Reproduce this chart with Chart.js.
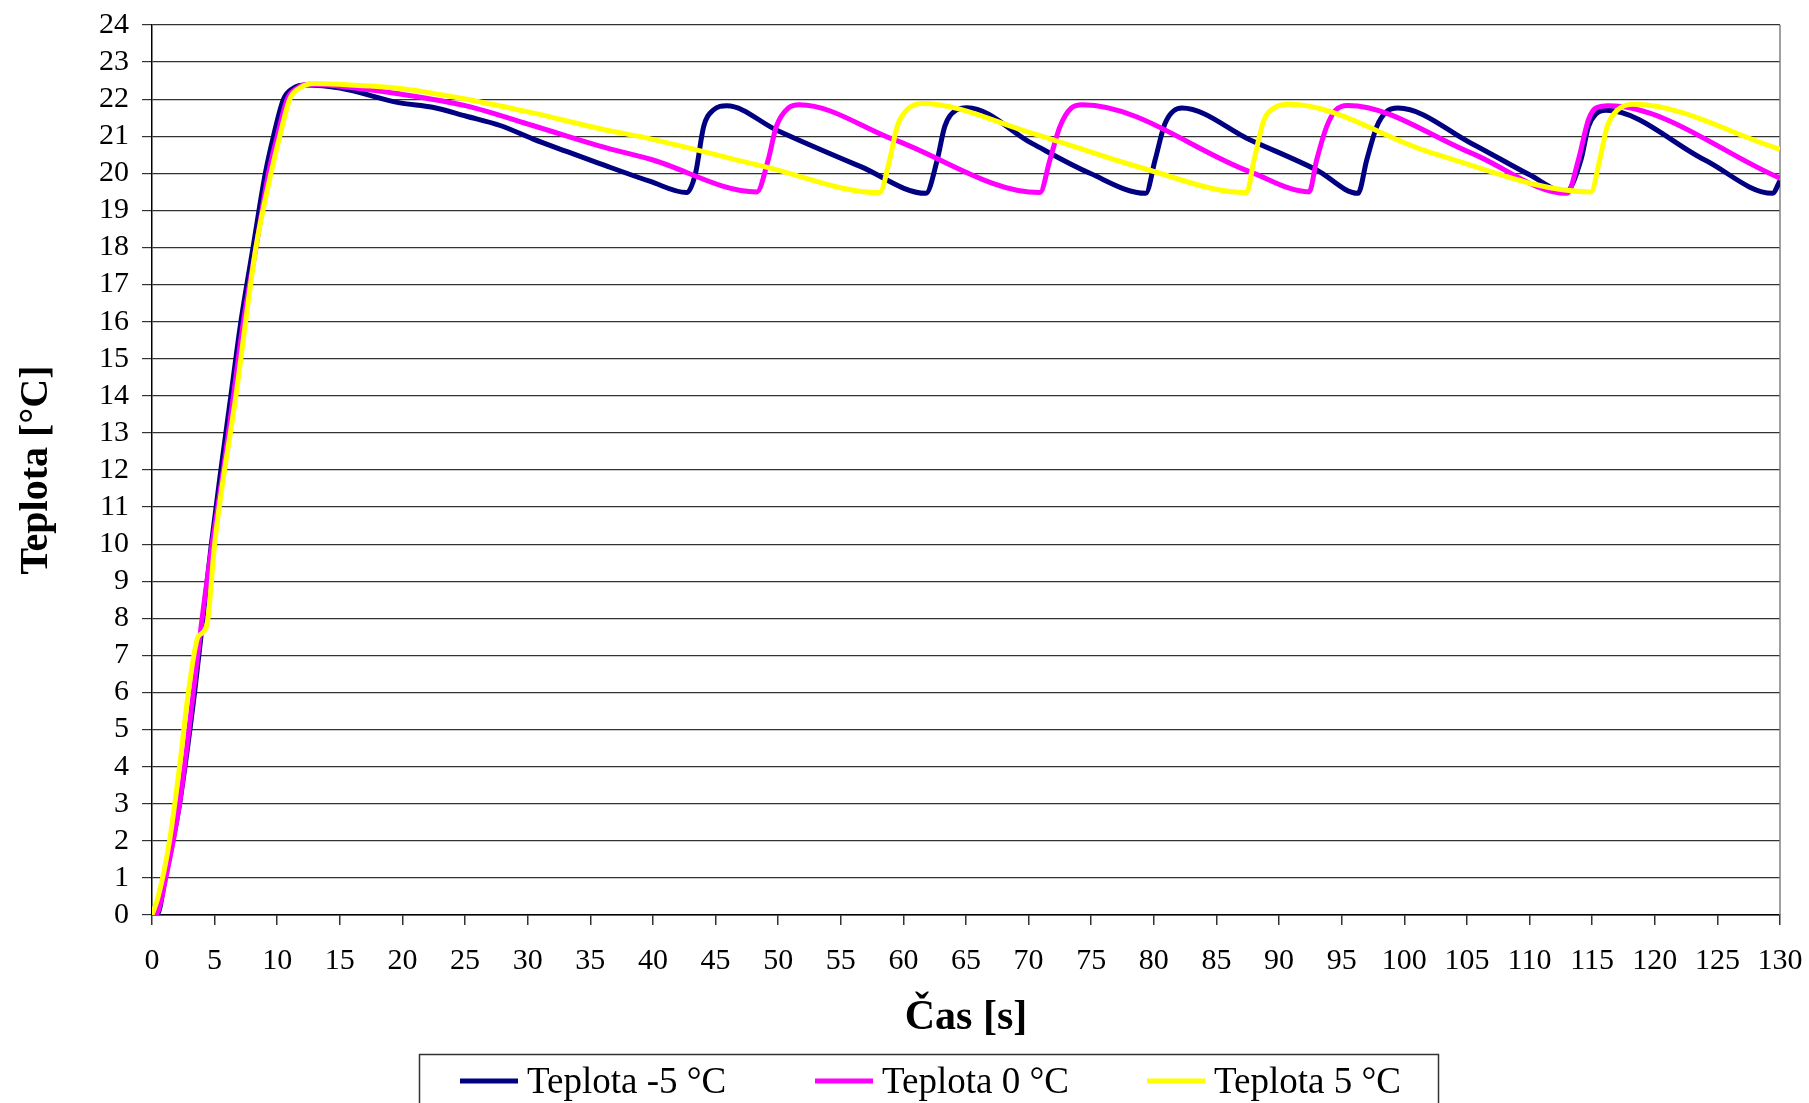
<!DOCTYPE html>
<html>
<head>
<meta charset="utf-8">
<title>Teplota</title>
<script src="https://cdn.jsdelivr.net/npm/chart.js@4.4.1/dist/chart.umd.min.js"></script>
<style>
  html, body { margin: 0; padding: 0; background: #fff; }
  #wrap { width: 1809px; height: 1103px; }
</style>
</head>
<body>
<div id="wrap"><canvas id="line-chart" width="1809" height="1103"></canvas></div>
<script>
// series names
let seriesLabels = ["Teplota -5 °C", "Teplota 0 °C", "Teplota 5 °C"];
let seriesColors = ["#000080", "#FF00FF", "#FFFF00"];

// Teplota -5 °C
let timeM5 = [0, 0.4, 1.06, 2.2, 3.4, 4.07, 4.74, 5.5, 6.3, 7.1, 8.07, 9.05, 9.7, 10.5, 11.3, 12.3, 15, 19.8, 22.4, 25.1, 27.8, 30.4, 33.1, 35.7, 39.8, 42.7, 43.4, 44.05, 44.8, 45.9, 49.85, 56.6, 61.8, 62.7, 63.3, 64.2, 65.1, 70.3, 74.9, 79.35, 80.1, 80.9, 82.25, 87.7, 93.0, 96.3, 97.0, 97.8, 98.6, 99.5, 105.4, 110.0, 112.9, 114.1, 114.7, 115.3, 116.1, 124.0, 129.4, 130];
let tempM5 = [0, 0, 1, 3, 6, 8, 10, 12, 14, 16, 18, 20, 21, 22, 22.3, 22.38, 22.3, 21.9, 21.78, 21.54, 21.29, 20.93, 20.59, 20.27, 19.78, 19.48, 20.0, 21.26, 21.7, 21.82, 21.17, 20.18, 19.46, 20.36, 21.26, 21.7, 21.77, 20.8, 20.0, 19.46, 20.36, 21.35, 21.76, 20.9, 20.09, 19.46, 20.36, 21.26, 21.67, 21.76, 20.8, 19.96, 19.5, 20.36, 21.26, 21.6, 21.7, 20.36, 19.46, 19.8];

// Teplota 0 °C
let time0 = [0, 0.4, 1.1, 2.2, 3.3, 4.0, 4.8, 5.7, 6.5, 7.3, 8.3, 9.3, 10.0, 10.8, 11.6, 12.6, 15, 19.8, 25.1, 30.4, 35.7, 39.8, 48.3, 49.2, 49.85, 50.8, 51.7, 59.3, 70.9, 71.7, 72.5, 73.4, 74.3, 87.7, 92.4, 93.0, 93.8, 94.5, 95.5, 105.4, 113.0, 113.9, 114.7, 115.3, 116.3, 130];
let temp0 = [0, 0.05, 1, 3, 6, 8, 10, 12, 14, 16, 18, 20, 21, 22, 22.3, 22.4, 22.35, 22.14, 21.82, 21.29, 20.74, 20.38, 19.5, 20.36, 21.26, 21.76, 21.85, 20.9, 19.48, 20.36, 21.26, 21.76, 21.85, 20.04, 19.5, 20.36, 21.26, 21.7, 21.83, 20.54, 19.46, 20.36, 21.44, 21.76, 21.82, 19.87];

// Teplota 5 °C
let time5 = [0, 0.5, 1.4, 2.2, 2.9, 3.67, 4.0, 4.47, 5.0, 6.7, 8.3, 9.5, 10.2, 11.0, 11.8, 13, 15, 19.8, 25.1, 30.4, 35.7, 39.8, 48.9, 58.1, 58.9, 59.5, 60.25, 61.5, 70.3, 79.0, 87.4, 88.0, 88.8, 89.6, 90.8, 102.3, 114.9, 115.6, 116.2, 117.0, 118.3, 130];
let temp5 = [0, 0.5, 2, 4, 6, 7.5, 7.6, 8.0, 10, 14, 18, 20, 21, 22, 22.3, 22.42, 22.4, 22.29, 22.0, 21.63, 21.21, 20.93, 20.18, 19.48, 20.36, 21.26, 21.7, 21.88, 21.08, 20.15, 19.48, 20.36, 21.44, 21.76, 21.86, 20.54, 19.5, 20.36, 21.26, 21.7, 21.86, 20.65];

// axes
let xMin = 0, xMax = 130, xStep = 5;
let yMin = 0, yMax = 24, yStep = 1;
let xTitle = "Čas [s]";
let yTitle = "Teplota [°C]";

function pairs(xs, ys) {
  return xs.map((x, i) => ({ x: x, y: ys[i] }));
}

let serif = "'Liberation Serif', 'Times New Roman', serif";

let datapoints = {
  datasets: [
    { label: seriesLabels[0], data: pairs(timeM5, tempM5), borderColor: seriesColors[0], order: 2 },
    { label: seriesLabels[1], data: pairs(time0, temp0), borderColor: seriesColors[1], order: 1 },
    { label: seriesLabels[2], data: pairs(time5, temp5), borderColor: seriesColors[2], order: 0 },
  ],
};

// right frame line + boxed legend under the axis
let extras = {
  id: "extras",
  beforeDatasetsDraw(chart) {
    let ctx = chart.ctx;
    let a = chart.chartArea;
    ctx.save();
    ctx.strokeStyle = "#808080";
    ctx.lineWidth = 1.5;
    ctx.beginPath();
    ctx.moveTo(a.right, a.top);
    ctx.lineTo(a.right, a.bottom);
    ctx.stroke();
    ctx.restore();
  },
  afterDraw(chart) {
    let ctx = chart.ctx;
    ctx.save();
    ctx.strokeStyle = "#333";
    ctx.lineWidth = 1.5;
    ctx.strokeRect(419.5, 1054.5, 1019, 80);
    let starts = [460, 815, 1147];
    let y = 1081;
    ctx.font = "37px " + serif;
    ctx.textBaseline = "middle";
    ctx.fillStyle = "#000";
    chart.data.datasets.forEach((ds, i) => {
      ctx.strokeStyle = ds.borderColor;
      ctx.lineWidth = 5;
      ctx.beginPath();
      ctx.moveTo(starts[i], y);
      ctx.lineTo(starts[i] + 58, y);
      ctx.stroke();
      ctx.fillText(ds.label, starts[i] + 67, y + 2);
    });
    ctx.restore();
  },
};

let config = {
  responsive: false,
  animation: false,
  devicePixelRatio: 1,
  layout: {
    padding: { left: 0, right: 29, top: 25, bottom: 60 },
  },
  elements: {
    point: { radius: 0 },
    line: { borderWidth: 5, cubicInterpolationMode: "monotone", fill: false },
  },
  plugins: {
    legend: { display: false },
    tooltip: { enabled: false },
  },
  scales: {
    x: {
      type: "linear",
      min: xMin,
      max: xMax,
      afterFit: (scale) => {
        scale.height = 128;
        scale.paddingLeft = 0;
        scale.paddingRight = 0;
      },
      border: { display: true, color: "#000", width: 1.5 },
      grid: { drawOnChartArea: false, drawTicks: true, tickLength: 10, color: "#333", lineWidth: 1.5 },
      ticks: {
        stepSize: xStep,
        autoSkip: false,
        maxRotation: 0,
        padding: 18,
        color: "#000",
        font: { family: serif, size: 30 },
      },
      title: {
        display: true,
        text: xTitle,
        color: "#000",
        font: { family: serif, size: 42, weight: "bold" },
        padding: { top: 0, bottom: 0 },
      },
    },
    y: {
      min: yMin,
      max: yMax,
      afterFit: (scale) => {
        scale.width = 152;
        scale.paddingTop = 0;
        scale.paddingBottom = 0;
      },
      border: { display: true, color: "#000", width: 1.5 },
      grid: { color: "#333", lineWidth: 1.2, tickLength: 10 },
      ticks: {
        stepSize: yStep,
        autoSkip: false,
        padding: 13,
        color: "#000",
        font: { family: serif, size: 30 },
      },
      title: {
        display: true,
        text: yTitle,
        color: "#000",
        font: { family: serif, size: 40, weight: "bold" },
        padding: { top: 13, bottom: 0 },
      },
    },
  },
};

let myChart = document.getElementById("line-chart").getContext("2d");
let lineChart = new Chart(myChart, {
  type: "line",
  data: datapoints,
  options: config,
  plugins: [extras],
});
</script>
</body>
</html>
